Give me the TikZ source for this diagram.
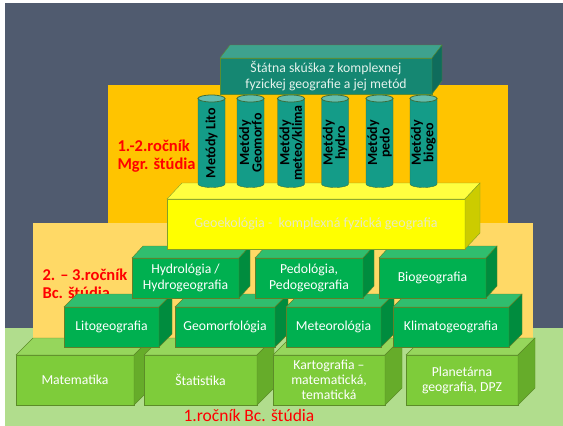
\documentclass[tikz,border=0pt]{standalone}
\usepackage{fontspec}
\setmainfont{Carlito}

\definecolor{slate}{RGB}{80,91,111}
\definecolor{gold}{RGB}{255,196,0}
\definecolor{paleyel}{RGB}{255,217,102}
\definecolor{lightgr}{RGB}{177,221,141}
\definecolor{lfront}{RGB}{126,204,58}
\definecolor{ltop}{RGB}{150,214,92}
\definecolor{lside}{RGB}{102,172,42}
\definecolor{lrim}{RGB}{92,140,40}
\definecolor{gfront}{RGB}{0,176,80}
\definecolor{gtop}{RGB}{48,190,110}
\definecolor{gside}{RGB}{0,140,62}
\definecolor{grim}{RGB}{96,128,40}
\definecolor{yfront}{RGB}{255,255,0}
\definecolor{ytop}{RGB}{255,255,64}
\definecolor{yside}{RGB}{204,204,0}
\definecolor{yrim}{RGB}{130,160,40}
\definecolor{ytext}{RGB}{232,232,196}
\definecolor{tfront}{RGB}{21,135,114}
\definecolor{ttop}{RGB}{62,162,142}
\definecolor{tside}{RGB}{15,108,92}
\definecolor{trim}{RGB}{90,140,50}
\definecolor{ttext}{RGB}{228,242,236}
\definecolor{cylbody}{RGB}{20,156,136}
\definecolor{cylend}{RGB}{100,190,174}
\definecolor{cylrim}{RGB}{60,110,60}
\definecolor{labred}{RGB}{255,0,0}

% top and side face of a brick: node, dx, dy, colour prefix
\newcommand{\brickfaces}[4]{%
  \filldraw[draw=#4rim, fill=#4top] (#1.north west) -- ++(#2,#3) -- ([shift={(#2,#3)}]#1.north east) -- (#1.north east) -- cycle;
  \filldraw[draw=#4rim, fill=#4side] (#1.north east) -- ++(#2,#3) -- ([shift={(#2,#3)}]#1.south east) -- (#1.south east) -- cycle;
}

% standing cylinder with its label: name, x, text
\newcommand{\pillar}[3]{%
  \filldraw[draw=cylrim, fill=cylbody] (#2-13.5,98.5) -- (#2-13.5,184) arc[start angle=180, end angle=0, x radius=13.5, y radius=3.5] -- (#2+13.5,98.5) -- cycle;
  \filldraw[draw=cylrim, line width=0.8pt, fill=cylend] (#2,98.5) ellipse[x radius=13.5, y radius=3.5];
  \node[pillartext] (#1) at (#2,143) {#3};
}

\begin{document}
\begin{tikzpicture}[x=1pt, y=-1pt,
    lbrick/.style={draw=lrim, fill=lfront, text=white, minimum height=50, outer sep=0pt, inner sep=1pt, align=center, font=\fontsize{13.7}{15}\selectfont},
    gbrick/.style={lbrick, draw=grim, fill=gfront, minimum height=40, font=\fontsize{13.7}{16.5}\selectfont},
    ybrick/.style={lbrick, draw=yrim, fill=yfront, text=ytext, font=\fontsize{14}{16.5}\selectfont},
    tbrick/.style={lbrick, draw=trim, fill=tfront, text=ttext, minimum height=36, font=\fontsize{13.7}{16.5}\selectfont},
    pillartext/.style={rotate=90, text=black, inner sep=0pt, align=center, font=\bfseries\fontsize{14}{12.5}\selectfont},
    yearlabel/.style={text=labred, anchor=west, align=left, font=\bfseries\fontsize{16.5}{18}\selectfont}]

    \useasboundingbox (0,0) rectangle (563,426);
    \fill[slate] (5,3) rectangle (563,328);
    \fill[lightgr] (5,328) rectangle (563,426);
    \fill[gold] (108,85) rectangle (508,223);
    \fill[paleyel] (33,223) rectangle (533,338);

    \node[yearlabel] (mgr) at (114,156) {1.-2.ročník\\Mgr. štúdia};
    \node[yearlabel] (bc23) at (39,284) {2. – 3.ročník\\Bc. štúdia};
    \node[text=labred, anchor=base, inner sep=1pt, font=\fontsize{17.5}{20}\selectfont] (bc1) at (249,421) {1.ročník Bc. štúdia};

    \node[lbrick, minimum width=118] (mat) at (75,380) {Matematika};
    \brickfaces{mat}{17}{-17}{l}
    \node[lbrick, minimum width=113] (stat) at (200.5,380) {Štatistika};
    \brickfaces{stat}{17}{-17}{l}
    \node[lbrick, minimum width=112] (kart) at (329,380) {Kartografia –\\matematická,\\tematická};
    \brickfaces{kart}{17}{-17}{l}
    \node[lbrick, minimum width=112] (plan) at (462,380) {Planetárna\\geografia, DPZ};
    \brickfaces{plan}{17}{-17}{l}

    \node[gbrick, minimum width=95] (lito) at (111.5,327) {Litogeografia};
    \brickfaces{lito}{13}{-13}{g}
    \node[gbrick, minimum width=100] (geom) at (225,327) {Geomorfológia};
    \brickfaces{geom}{13}{-13}{g}
    \node[gbrick, minimum width=95] (meteo) at (333.5,327) {Meteorológia};
    \brickfaces{meteo}{13}{-13}{g}
    \node[gbrick, minimum width=116] (klima) at (451,327) {Klimatogeografia};
    \brickfaces{klima}{13}{-13}{g}

    \node[gbrick, minimum width=107] (hydro) at (185.5,278) {Hydrológia /\\Hydrogeografia};
    \brickfaces{hydro}{11}{-12}{g}
    \node[gbrick, minimum width=108] (pedo) at (309,278) {Pedológia,\\Pedogeografia};
    \brickfaces{pedo}{11}{-12}{g}
    \node[gbrick, minimum width=107] (bio) at (432.5,278) {Biogeografia};
    \brickfaces{bio}{11}{-12}{g}

    \node[ybrick, minimum width=298] (geoek) at (316,224) {Geoekológia -~ komplexná fyzická geografia};
    \brickfaces{geoek}{15}{-16}{y}

    \pillar{mlito}{211.5}{Metódy Lito}
    \pillar{mgeom}{250.5}{Metódy\\Geomorfo}
    \pillar{mmeteo}{291}{Metódy\\meteo/klima}
    \pillar{mhydro}{335}{Metódy\\hydro}
    \pillar{mpedo}{379.5}{Metódy\\pedo}
    \pillar{mbio}{423.5}{Metódy\\biogeo}

    \node[tbrick, minimum width=212] (statna) at (326,76) {Štátna skúška z komplexnej\\fyzickej geografie a jej metód};
    \brickfaces{statna}{10}{-13}{t}

\end{tikzpicture}
\end{document}
